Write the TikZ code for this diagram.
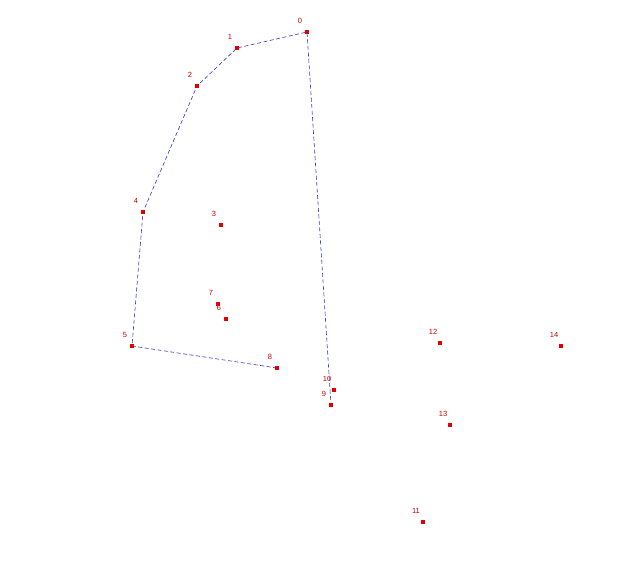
\documentclass[tikz,border=0pt]{standalone}
\usepackage{fontspec}
\setmainfont{Liberation Sans}
\usetikzlibrary{positioning}
\tikzset{
	hull edge/.style={draw=blue!55!gray, dash pattern=on 4pt off 2.5pt, line width=0.6pt},
	point nodes/.style={
		rectangle,
		fill=red!90!black,
		minimum size=4.5pt,
		inner sep=0pt,
		outer sep=0pt
	},
	point label/.style={
		text=red!80!black,
		font=\fontsize{7.5}{8}\selectfont,
		inner sep=0pt
	}
}
\newcommand{\hullpoint}[3]{% point index, x, y
	\node[point nodes] (p#1) at (#2,#3) {};
	\node[point label] (l#1) at ([xshift=-7pt, yshift=11.5pt]p#1) {#1}
}

\begin{document}
\begin{tikzpicture}[x=1pt, y=-1pt]
			\useasboundingbox (0,0) rectangle (619,580);
			% the path first, so the points sit on top
			\coordinate (c0) at (307,32);
			\coordinate (c1) at (237,48);
			\coordinate (c2) at (197,86);
			\coordinate (c4) at (143,212);
			\coordinate (c5) at (132,346);
			\coordinate (c8) at (277,368);
			\coordinate (c9) at (331,405);
			\draw[hull edge] (c8) -- (c5) -- (c4) -- (c2) -- (c1) -- (c0) -- (c9);
			
			\hullpoint{0}{307}{32};
			\hullpoint{1}{237}{48};
			\hullpoint{2}{197}{86};
			\hullpoint{3}{221}{225};
			\hullpoint{4}{143}{212};
			\hullpoint{5}{132}{346};
			\hullpoint{6}{226}{319};
			\hullpoint{7}{218}{304};
			\hullpoint{8}{277}{368};
			\hullpoint{9}{331}{405};
			\hullpoint{10}{334}{390};
			\hullpoint{11}{423}{522};
			\hullpoint{12}{440}{343};
			\hullpoint{13}{450}{425};
			\hullpoint{14}{561}{346};
		\end{tikzpicture}
\end{document}
